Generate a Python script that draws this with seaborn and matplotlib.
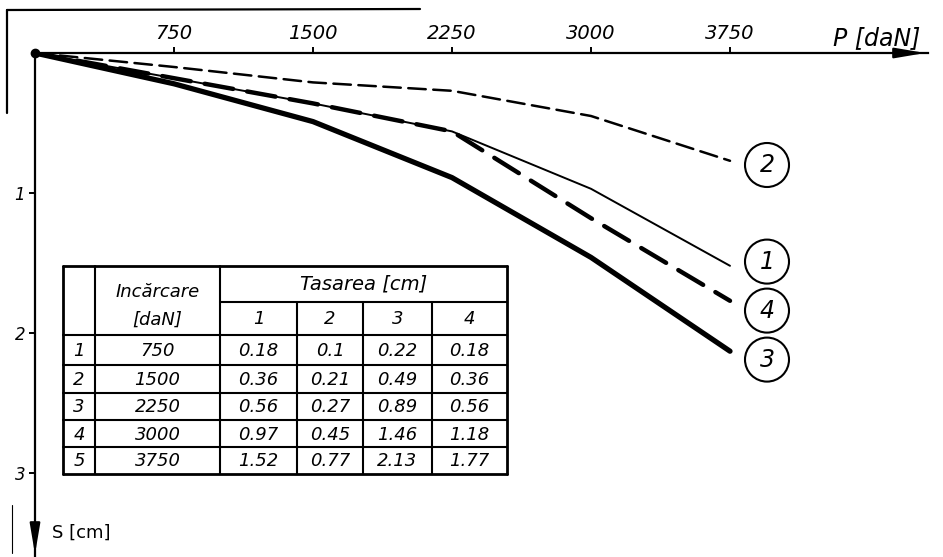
import matplotlib.pyplot as plt
import matplotlib.lines as mlines
from matplotlib.patches import Ellipse
import pandas as pd
import seaborn as sns

# date citite din tabel
incarcare = [750, 1500, 2250, 3000, 3750]
tasare_1 = [0.18, 0.36, 0.56, 0.97, 1.52]
tasare_2 = [0.1, 0.21, 0.27, 0.45, 0.77]
tasare_3 = [0.22, 0.49, 0.89, 1.46, 2.13]
tasare_4 = [0.18, 0.36, 0.56, 1.18, 1.77]
curbe = ['1', '2', '3', '4']
ticks_s = [1, 2, 3]

serii = {'1': tasare_1, '2': tasare_2, '3': tasare_3, '4': tasare_4}
randuri = []
for c in curbe:
    for p, s in zip([0] + incarcare, [0] + serii[c]):
        randuri.append({'P': p, 'S': s, 'curba': c})
df = pd.DataFrame(randuri)

sns.set_style('white')
plt.rcParams['font.family'] = ['DejaVu Sans']
plt.rcParams['text.color'] = 'black'
plt.rcParams['xtick.color'] = 'black'
plt.rcParams['ytick.color'] = 'black'

W, H = 943, 557
fig = plt.figure(figsize=(W / 100, H / 100), dpi=100)


def fx(x):
    return x / W


def fy(y):
    return 1 - y / H


ax = fig.add_axes([fx(35), 0, fx(928) - fx(35), fy(53)])

sns.lineplot(
    data=df, x='P', y='S',
    style='curba', size='curba',
    sizes={'1': 1.4, '2': 1.8, '3': 3.8, '4': 3.2},
    dashes={'1': '', '2': (7, 3), '3': '', '4': (6.5, 3.2)},
    color='black', estimator=None, sort=False, legend=False, ax=ax,
    solid_capstyle='round', dash_capstyle='round',
)

px_per_dan = (730 - 35) / 3750
ax.set_xlim(0, (928 - 35) / px_per_dan)
ax.set_ylim((557 - 53) / 140, 0)
ax.set_xlabel('')
ax.set_ylabel('')

# axe: sus si stanga
for poz in ['right', 'bottom']:
    ax.spines[poz].set_visible(False)
for poz in ['top', 'left']:
    ax.spines[poz].set_linewidth(1.6)
    ax.spines[poz].set_color('black')

ax.xaxis.tick_top()
ax.set_xticks(incarcare)
ax.set_xticklabels([str(v) for v in incarcare], fontsize=14, style='italic')
ax.tick_params(axis='x', top=True, bottom=False, direction='out',
               length=4, width=1.4, pad=3, colors='black')
ax.set_yticks(ticks_s)
ax.set_yticklabels([str(v) for v in ticks_s], fontsize=12, style='italic')
ax.tick_params(axis='y', left=True, right=False, direction='out',
               length=4, width=1.4, pad=3, colors='black')

sageata = dict(arrowstyle='-|>,head_length=1.3,head_width=0.22',
               color='black', lw=1.6, mutation_scale=14)
ax.annotate('', xy=(1.0, 1.0), xytext=(0.96, 1.0), xycoords='axes fraction',
            arrowprops=sageata)
ax.annotate('', xy=(0.0, 0.0), xytext=(0.0, 0.04), xycoords='axes fraction',
            arrowprops=sageata)
ax.plot(0, 0, 'o', color='black', ms=6, clip_on=False)

ax.text(4543, -0.107, 'P [daN]', fontsize=17, style='italic',
        ha='center', va='center', clip_on=False)
ax.text(92, 3.43, 'S [cm]', fontsize=13, ha='left', va='center')

# etichete cu cerc la capatul curbelor
eticheta_dy = {'1': -0.03, '2': 0.03, '3': 0.06, '4': 0.07}
x_cerc = (767 - 35) / px_per_dan
for c in curbe:
    y_c = serii[c][-1] + eticheta_dy[c]
    ax.add_patch(Ellipse((x_cerc, y_c), 44 / px_per_dan, 44 / 140,
                         fill=False, lw=1.5, ec='black', clip_on=False))
    ax.text(x_cerc, y_c, c, fontsize=17, style='italic',
            ha='center', va='center')

# tabelul
col_x = [63, 95, 220, 297, 363, 432, 507]
rand_y = [266, 302, 335, 365, 393, 420, 447, 474]


def linie(x0, y0, x1, y1, lw=1.5):
    fig.add_artist(mlines.Line2D([fx(x0), fx(x1)], [fy(y0), fy(y1)],
                                 color='black', lw=lw))


linie(col_x[0], rand_y[0], col_x[-1], rand_y[0], 2.0)
linie(col_x[0], rand_y[-1], col_x[-1], rand_y[-1], 2.0)
linie(col_x[0], rand_y[0], col_x[0], rand_y[-1], 2.0)
linie(col_x[-1], rand_y[0], col_x[-1], rand_y[-1], 2.0)
linie(col_x[1], rand_y[0], col_x[1], rand_y[-1])
linie(col_x[2], rand_y[0], col_x[2], rand_y[-1])
for x in col_x[3:-1]:
    linie(x, rand_y[1], x, rand_y[-1])
linie(col_x[2], rand_y[1], col_x[-1], rand_y[1])
for y in rand_y[2:-1]:
    linie(col_x[0], y, col_x[-1], y)


def text_px(x, y, s, size=13):
    fig.text(fx(x), fy(y), s, fontsize=size, style='italic',
             ha='center', va='center')


text_px((col_x[1] + col_x[2]) / 2, 292, 'Incărcare')
text_px((col_x[1] + col_x[2]) / 2, 320, '[daN]')
text_px((col_x[2] + col_x[-1]) / 2, (rand_y[0] + rand_y[1]) / 2, 'Tasarea [cm]', 14)
for j, c in enumerate(curbe):
    text_px((col_x[j + 2] + col_x[j + 3]) / 2, (rand_y[1] + rand_y[2]) / 2, c)

for i, p in enumerate(incarcare):
    yc = (rand_y[i + 2] + rand_y[i + 3]) / 2 + 1
    text_px((col_x[0] + col_x[1]) / 2, yc, str(i + 1))
    text_px((col_x[1] + col_x[2]) / 2, yc, str(p))
    for j, c in enumerate(curbe):
        text_px((col_x[j + 2] + col_x[j + 3]) / 2, yc, str(serii[c][i]))

# chenarul foii scanate
linie(7, 10, 420, 9, 1.6)
linie(7, 10, 7, 113, 1.6)
linie(12, 505, 12, 553, 0.8)

fig.savefig('out.png', dpi=100, facecolor='white')
